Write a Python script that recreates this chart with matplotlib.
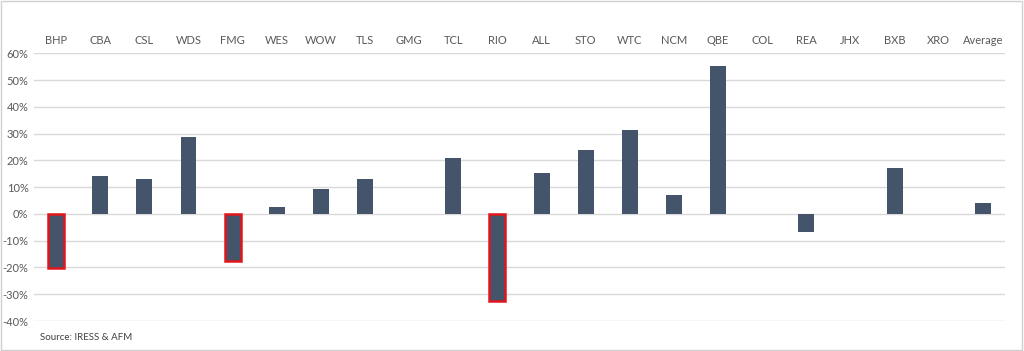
import matplotlib
matplotlib.use("Agg")
import matplotlib.pyplot as plt
from matplotlib.patches import Rectangle
from matplotlib.ticker import FuncFormatter

categories = ["BHP", "CBA", "CSL", "WDS", "FMG", "WES", "WOW", "TLS", "GMG", "TCL",
              "RIO", "ALL", "STO", "WTC", "NCM", "QBE", "COL", "REA", "JHX", "BXB",
              "XRO", "Average"]
values = [-20.1, 14.0, 13.2, 28.7, -17.7, 2.6, 9.4, 13.1, 0.0, 21.0,
          -32.4, 15.1, 23.9, 31.2, 7.0, 55.4, 0.0, -6.9, 0.0, 17.1,
          0.0, 4.2]
highlighted = ["BHP", "FMG", "RIO"]
yticks = [-40, -30, -20, -10, 0, 10, 20, 30, 40, 50, 60]

plt.rcParams['font.family'] = ['Lato', 'DejaVu Sans']

fig = plt.figure(figsize=(10.24, 3.51), dpi=100)
ax = fig.add_axes([34/1024, 1 - 321/351, (1005-34)/1024, (321-53.3)/351])

x = list(range(len(categories)))
bar_color = "#44546A"
for xi, cat, v in zip(x, categories, values):
    if cat in highlighted:
        ax.bar(xi, v, width=0.36, color=bar_color, edgecolor="#E0161B", linewidth=1.8, zorder=3)
    else:
        ax.bar(xi, v, width=0.36, color=bar_color, zorder=3)

ax.set_xlim(-0.5, len(categories) - 0.5)
ax.set_ylim(-40, 60)
ax.set_yticks(yticks)
ax.yaxis.set_major_formatter(FuncFormatter(lambda v, p: f"{int(v)}%"))
ax.grid(axis="y", color="#D9D9D9", linewidth=1.0, zorder=0)
for s in ax.spines.values():
    s.set_visible(False)
ax.tick_params(axis="y", length=0, labelsize=8, labelcolor="#595959", pad=4)
ax.set_xticks(x)
ax.set_xticklabels(categories)
ax.xaxis.tick_top()
ax.tick_params(axis="x", length=0, labelsize=8, labelcolor="#595959", pad=5)

fig.text(40/1024, 1 - 337/351, "Source: IRESS & AFM", fontsize=7, color="#404040", va="center", ha="left")

fig.patches.append(Rectangle((0.001, 0.002), 0.997, 0.995, transform=fig.transFigure,
                             fill=False, edgecolor="#D0D0D0", linewidth=1.0))

fig.savefig("out.png", dpi=100, facecolor="white")
